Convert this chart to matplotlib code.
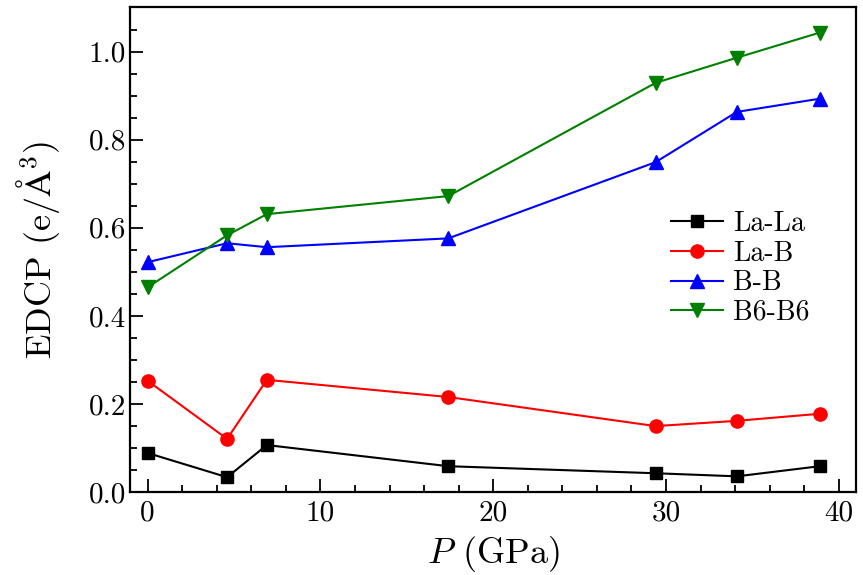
import matplotlib
matplotlib.use('Agg')
import matplotlib.pyplot as plt
from matplotlib.ticker import MultipleLocator

plt.rcParams['font.family'] = 'serif'
plt.rcParams['font.serif'] = ['cmr10', 'DejaVu Serif']
plt.rcParams['mathtext.fontset'] = 'cm'
plt.rcParams['axes.unicode_minus'] = False

P = [0, 4.6, 6.9, 17.4, 29.4, 34.1, 38.9]
la_la = [0.089, 0.034, 0.107, 0.059, 0.043, 0.036, 0.059]
la_b = [0.253, 0.121, 0.255, 0.216, 0.150, 0.162, 0.178]
b_b = [0.522, 0.565, 0.556, 0.576, 0.749, 0.863, 0.893]
b6_b6 = [0.465, 0.583, 0.631, 0.672, 0.929, 0.986, 1.043]

fig = plt.figure(figsize=(8.63, 5.75), dpi=100)
ax = fig.add_axes([0.151, 0.144, 0.841, 0.843])

ax.plot(P, la_la, color='black', marker='s', markersize=8.5, lw=1.5, label='La-La')
ax.plot(P, la_b, color='red', marker='o', markersize=9.5, lw=1.5, label='La-B')
ax.plot(P, b_b, color='blue', marker='^', markersize=10.5, lw=1.5, label='B-B')
ax.plot(P, b6_b6, color='green', marker='v', markersize=10.5, lw=1.5, label='B6-B6')

ax.set_xlim(-1, 41)
ax.set_ylim(0, 1.1)
ax.xaxis.set_major_locator(MultipleLocator(10))
ax.xaxis.set_minor_locator(MultipleLocator(2))
ax.yaxis.set_major_locator(MultipleLocator(0.2))
ax.yaxis.set_minor_locator(MultipleLocator(0.05))
ax.yaxis.set_major_formatter(plt.FuncFormatter(lambda v, p: '%.1f' % v))
ax.tick_params(which='both', direction='in', top=False, right=False, labelsize=21, width=1.3)
ax.tick_params(which='major', length=9.5)
ax.tick_params(which='minor', length=5)
ax.tick_params(axis='x', which='major', pad=6)
ax.tick_params(axis='y', which='major', pad=3)
for s in ax.spines.values():
    s.set_linewidth(1.6)

ax.set_xlabel(r'$P$ (GPa)', fontsize=26)
ax.set_ylabel(r'EDCP (e/$\mathrm{\AA}^{3}$)', fontsize=26)
ax.xaxis.set_label_coords(0.5, -0.086)
ax.yaxis.set_label_coords(-0.094, 0.5)
ax.legend(loc='center left', bbox_to_anchor=(0.745, 0.462), frameon=False, fontsize=20,
          handlelength=1.87, labelspacing=0.12, handletextpad=0.35,
          borderpad=0, borderaxespad=0)

fig.savefig('out.png', dpi=100)
